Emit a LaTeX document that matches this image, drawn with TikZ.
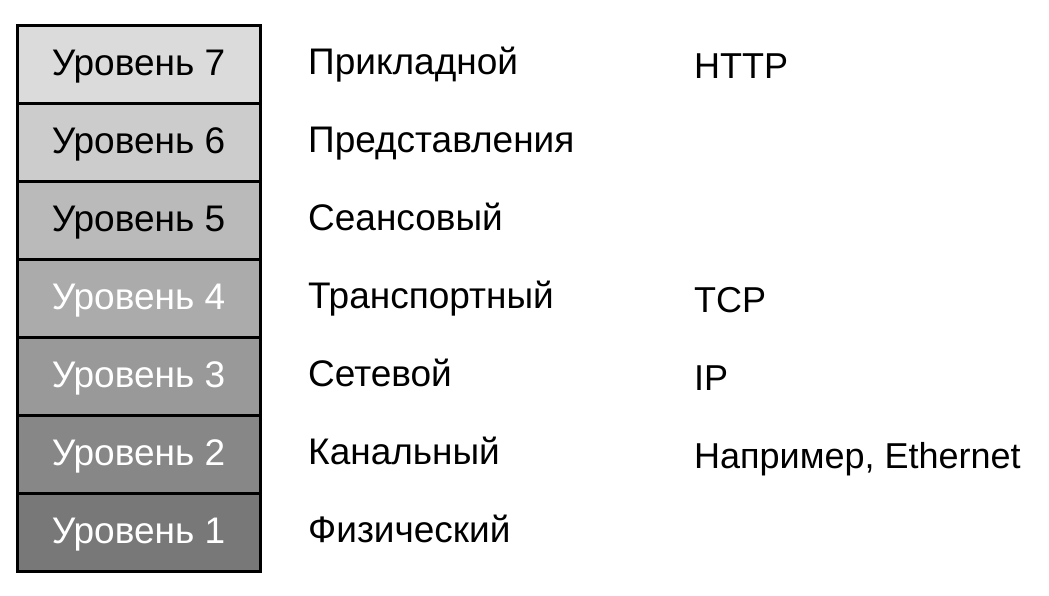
\documentclass[tikz,border=0pt]{standalone}
\usepackage{fontspec}
\setmainfont{Liberation Sans}
\usetikzlibrary{positioning}

\begin{document}
\begin{tikzpicture}[x=1pt, y=-1pt,
	layer/.style={draw=black, line width=3pt, minimum width=243pt, minimum height=78pt, inner sep=0pt, text height=27pt, text depth=5pt, font=\fontsize{37}{42}\selectfont},
	lbl/.style={anchor=base west, inner sep=0pt, font=\fontsize{37}{42}\selectfont},
	proto/.style={anchor=base west, inner sep=0pt, font=\fontsize{36}{42}\selectfont}]
	\useasboundingbox (0,0) rectangle (1049,595);
	% stack of levels
	\foreach \n/\g/\t in {7/14/black, 6/20/black, 5/27/black, 4/33/white, 3/40/white, 2/47/white, 1/53/white}
		\node[layer, fill=black!\g, text=\t] (lvl\n) at (138.5, {64+(7-\n)*78}) {Уровень \n};
	% layer names
	\foreach \n/\s in {7/Прикладной, 6/Представления, 5/Сеансовый, 4/Транспортный, 3/Сетевой, 2/Канальный, 1/Физический}
		\node[lbl] (name\n) at (308, {74+(7-\n)*78}) {\s};
	% protocols
	\foreach \n/\s in {7/HTTP, 4/TCP, 3/IP, 2/{Например, Ethernet}}
		\node[proto] (proto\n) at (694, {78+(7-\n)*78}) {\s};
\end{tikzpicture}
\end{document}
